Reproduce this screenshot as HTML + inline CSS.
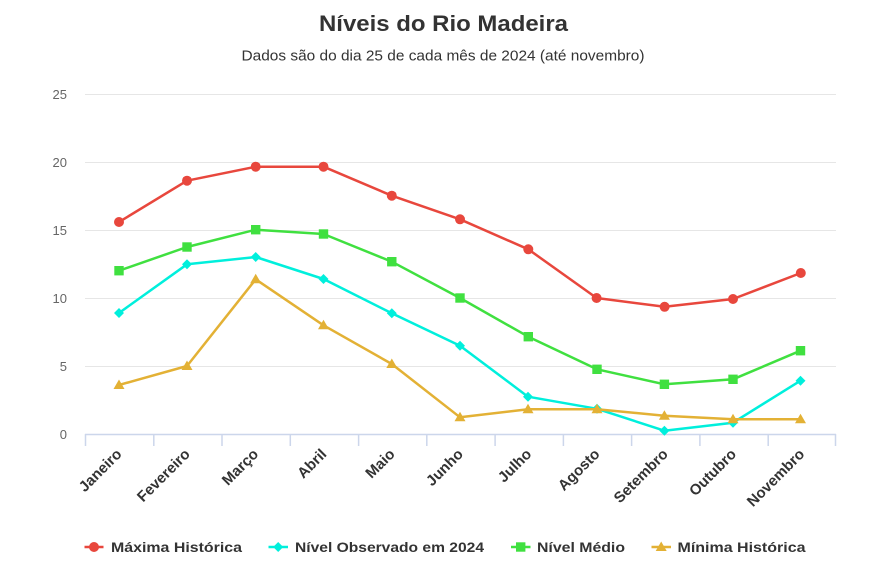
<!DOCTYPE html>
<html>
<head>
<meta charset="utf-8">
<style>
html,body{margin:0;padding:0;background:#fff;}
svg{display:block;font-family:"Liberation Sans",sans-serif;}
</style>
</head>
<body>
<svg width="873" height="580" viewBox="0 0 873 580" xmlns="http://www.w3.org/2000/svg">
<rect width="873" height="580" fill="#fff"/>
<text x="443.5" y="31" text-anchor="middle" font-size="22" font-weight="bold" fill="#333" textLength="249" lengthAdjust="spacingAndGlyphs">Níveis do Rio Madeira</text>
<text x="443" y="60.5" text-anchor="middle" font-size="14.5" fill="#333" textLength="403" lengthAdjust="spacingAndGlyphs">Dados são do dia 25 de cada mês de 2024 (até novembro)</text>

<g stroke="#e6e6e6" stroke-width="1">
<line x1="85" y1="94.5" x2="836" y2="94.5"/>
<line x1="85" y1="162.5" x2="836" y2="162.5"/>
<line x1="85" y1="230.5" x2="836" y2="230.5"/>
<line x1="85" y1="298.5" x2="836" y2="298.5"/>
<line x1="85" y1="366.5" x2="836" y2="366.5"/>
</g>
<g font-size="13" fill="#666" text-anchor="end">
<text x="67" y="99">25</text>
<text x="67" y="167">20</text>
<text x="67" y="235">15</text>
<text x="67" y="303">10</text>
<text x="67" y="371">5</text>
<text x="67" y="439">0</text>
</g>
<g stroke="#ccd6eb" stroke-width="1.5">
<line x1="85" y1="434.5" x2="836" y2="434.5"/>
<line x1="85.5" y1="434" x2="85.5" y2="446"/>
<line x1="153.8" y1="434" x2="153.8" y2="446"/>
<line x1="222" y1="434" x2="222" y2="446"/>
<line x1="290.3" y1="434" x2="290.3" y2="446"/>
<line x1="358.6" y1="434" x2="358.6" y2="446"/>
<line x1="426.8" y1="434" x2="426.8" y2="446"/>
<line x1="495.1" y1="434" x2="495.1" y2="446"/>
<line x1="563.4" y1="434" x2="563.4" y2="446"/>
<line x1="631.6" y1="434" x2="631.6" y2="446"/>
<line x1="699.9" y1="434" x2="699.9" y2="446"/>
<line x1="768.2" y1="434" x2="768.2" y2="446"/>
<line x1="835.5" y1="434" x2="835.5" y2="446"/>
</g>
<g font-size="15" font-weight="bold" fill="#333" text-anchor="end">
<text transform="translate(122.6,455) rotate(-45)">Janeiro</text>
<text transform="translate(190.9,455) rotate(-45)">Fevereiro</text>
<text transform="translate(259.2,455) rotate(-45)">Março</text>
<text transform="translate(327.5,455) rotate(-45)">Abril</text>
<text transform="translate(395.7,455) rotate(-45)">Maio</text>
<text transform="translate(464,455) rotate(-45)">Junho</text>
<text transform="translate(532.3,455) rotate(-45)">Julho</text>
<text transform="translate(600.6,455) rotate(-45)">Agosto</text>
<text transform="translate(668.8,455) rotate(-45)">Setembro</text>
<text transform="translate(737.1,455) rotate(-45)">Outubro</text>
<text transform="translate(805.4,455) rotate(-45)">Novembro</text>
</g>

<!-- Maxima -->
<g fill="#e8473d">
<polyline fill="none" stroke="#e8473d" stroke-width="2.5" stroke-linejoin="round" points="119,222 187,180.7 255.7,166.7 323.5,166.7 391.8,195.7 460,219.3 528.3,249.3 596.6,298 664.6,306.8 733,299 800.8,273"/>
<circle cx="119" cy="222" r="5"/>
<circle cx="187" cy="180.7" r="5"/>
<circle cx="255.7" cy="166.7" r="5"/>
<circle cx="323.5" cy="166.7" r="5"/>
<circle cx="391.8" cy="195.7" r="5"/>
<circle cx="460" cy="219.3" r="5"/>
<circle cx="528.3" cy="249.3" r="5"/>
<circle cx="596.6" cy="298" r="5"/>
<circle cx="664.6" cy="306.8" r="5"/>
<circle cx="733" cy="299" r="5"/>
<circle cx="800.8" cy="273" r="5"/>
</g>
<!-- Observado -->
<g fill="#00efdc">
<polyline fill="none" stroke="#00efdc" stroke-width="2.5" stroke-linejoin="round" points="119,313 187,264.3 255.7,257 323.5,279 391.8,313.3 460,345.7 528,396.7 597,408.8 664.4,430.7 733,422.7 800.5,380.7"/>
<path d="M119 308L124 313L119 318L114 313Z M187 259.3L192 264.3L187 269.3L182 264.3Z M255.7 252L260.7 257L255.7 262L250.7 257Z M323.5 274L328.5 279L323.5 284L318.5 279Z M391.8 308.3L396.8 313.3L391.8 318.3L386.8 313.3Z M460 340.7L465 345.7L460 350.7L455 345.7Z M528 391.7L533 396.7L528 401.7L523 396.7Z M597 403.8L602 408.8L597 413.8L592 408.8Z M664.4 425.7L669.4 430.7L664.4 435.7L659.4 430.7Z M733 417.7L738 422.7L733 427.7L728 422.7Z M800.5 375.7L805.5 380.7L800.5 385.7L795.5 380.7Z"/>
</g>
<!-- Medio -->
<g fill="#40e040">
<polyline fill="none" stroke="#40e040" stroke-width="2.5" stroke-linejoin="round" points="119,270.7 187,247 255.7,229.7 323.5,234 391.8,261.7 460,298 528.3,336.7 597,369.3 664.4,384.3 733,379.3 800.5,350.7"/>
<rect x="114.3" y="266" width="9.4" height="9.4"/>
<rect x="182.3" y="242.3" width="9.4" height="9.4"/>
<rect x="251" y="225" width="9.4" height="9.4"/>
<rect x="318.8" y="229.3" width="9.4" height="9.4"/>
<rect x="387.1" y="257" width="9.4" height="9.4"/>
<rect x="455.3" y="293.3" width="9.4" height="9.4"/>
<rect x="523.6" y="332" width="9.4" height="9.4"/>
<rect x="592.3" y="364.6" width="9.4" height="9.4"/>
<rect x="659.7" y="379.6" width="9.4" height="9.4"/>
<rect x="728.3" y="374.6" width="9.4" height="9.4"/>
<rect x="795.8" y="346" width="9.4" height="9.4"/>
</g>
<!-- Minima -->
<g fill="#e3b135">
<polyline fill="none" stroke="#e3b135" stroke-width="2.5" stroke-linejoin="round" points="119,385 187,366 255.7,279.3 323.5,325.3 391.8,364 460,417.3 528,409.3 597,409.3 664.4,415.7 733,419.3 800.5,419.3"/>
<path d="M119 379.5L124.5 389L113.5 389Z M187 360.5L192.5 370L181.5 370Z M255.7 273.8L261.2 283.3L250.2 283.3Z M323.5 319.8L329 329.3L318 329.3Z M391.8 358.5L397.3 368L386.3 368Z M460 411.8L465.5 421.3L454.5 421.3Z M528 403.8L533.5 413.3L522.5 413.3Z M597 403.8L602.5 413.3L591.5 413.3Z M664.4 410.2L669.9 419.7L658.9 419.7Z M733 413.8L738.5 423.3L727.5 423.3Z M800.5 413.8L806 423.3L795 423.3Z"/>
</g>

<!-- Legend -->
<g font-size="14" font-weight="bold" fill="#333">
<line x1="84.5" y1="547" x2="103.5" y2="547" stroke="#e8473d" stroke-width="2.5"/>
<circle cx="94" cy="547" r="5" fill="#e8473d"/>
<text x="111" y="552" textLength="131" lengthAdjust="spacingAndGlyphs">Máxima Histórica</text>

<line x1="268.5" y1="547" x2="288" y2="547" stroke="#00efdc" stroke-width="2.5"/>
<path d="M278.2 542L283.2 547L278.2 552L273.2 547Z" fill="#00efdc"/>
<text x="295" y="552" textLength="189" lengthAdjust="spacingAndGlyphs">Nível Observado em 2024</text>

<line x1="511" y1="547" x2="530.5" y2="547" stroke="#40e040" stroke-width="2.5"/>
<rect x="516" y="542.3" width="9.4" height="9.4" fill="#40e040"/>
<text x="537" y="552" textLength="88" lengthAdjust="spacingAndGlyphs">Nível Médio</text>

<line x1="651.5" y1="547" x2="671" y2="547" stroke="#e3b135" stroke-width="2.5"/>
<path d="M661.2 541.5L666.7 551L655.7 551Z" fill="#e3b135"/>
<text x="677.5" y="552" textLength="128" lengthAdjust="spacingAndGlyphs">Mínima Histórica</text>
</g>
</svg>
</body>
</html>
